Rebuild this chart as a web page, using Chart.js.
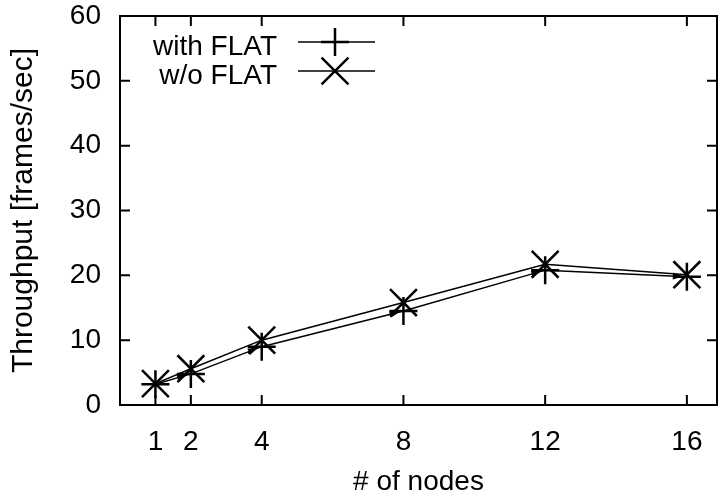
<!DOCTYPE html>
<html>
<head>
<meta charset="utf-8">
<script src="https://cdn.jsdelivr.net/npm/chart.js@4/dist/chart.umd.min.js"></script>
<style>
  html, body { margin: 0; padding: 0; background: #fff; }
  #myChart { display: block; }
</style>
</head>
<body>
<canvas id="myChart" width="718" height="498"></canvas>
<script>
// values
var nodes = [1, 2, 4, 8, 12, 16];
var withFlat = [3.2, 4.8, 9.0, 14.5, 20.8, 19.8];
var withoutFlat = [3.3, 5.6, 10.0, 15.8, 21.7, 20.1];
var xTicks = [1, 2, 4, 8, 12, 16];
var yTicks = [0, 10, 20, 30, 40, 50, 60];
var seriesNames = ['with FLAT', 'w/o FLAT'];

var FONT = 'Liberation Sans, Arial, Helvetica, sans-serif';

function toPoints(ys) {
    return nodes.map(function (n, i) { return { x: n, y: ys[i] }; });
}

// gnuplot-like frame, inward ticks, arrow heads and key
var gnuplotStyle = {
    id: 'gnuplotStyle',
    afterDatasetsDraw: function (chart) {
        var ctx = chart.ctx;
        var a = chart.chartArea;
        var xs = chart.scales.x, ys = chart.scales.y;
        ctx.save();
        ctx.strokeStyle = '#000';
        ctx.lineWidth = 2;
        ctx.strokeRect(a.left, a.top, a.right - a.left, a.bottom - a.top);

        ctx.beginPath();
        xTicks.forEach(function (v) {
            var px = xs.getPixelForValue(v);
            ctx.moveTo(px, a.bottom); ctx.lineTo(px, a.bottom - 10);
            ctx.moveTo(px, a.top); ctx.lineTo(px, a.top + 10);
        });
        yTicks.forEach(function (v) {
            var py = ys.getPixelForValue(v);
            ctx.moveTo(a.left, py); ctx.lineTo(a.left + 10, py);
            ctx.moveTo(a.right, py); ctx.lineTo(a.right - 10, py);
        });
        ctx.stroke();

        // arrow heads at the end of each segment (gnuplot vectors)
        var pts = chart.getDatasetMeta(0).data;
        ctx.fillStyle = '#000';
        for (var i = 1; i < pts.length; i++) {
            var p0 = pts[i - 1], p1 = pts[i];
            var dx = p1.x - p0.x, dy = p1.y - p0.y;
            var len = Math.sqrt(dx * dx + dy * dy);
            var ux = dx / len, uy = dy / len;
            var tx = p1.x - ux * 4, ty = p1.y - uy * 4;
            var bx = tx - ux * 10, by = ty - uy * 10;
            ctx.beginPath();
            ctx.moveTo(tx, ty);
            ctx.lineTo(bx - uy * 3.5, by + ux * 3.5);
            ctx.lineTo(bx + uy * 3.5, by - ux * 3.5);
            ctx.closePath();
            ctx.fill();
        }

        // key
        ctx.font = '28px ' + FONT;
        ctx.textAlign = 'right';
        ctx.textBaseline = 'alphabetic';
        ctx.fillStyle = '#000';
        var rows = [42, 71];
        chart.data.datasets.forEach(function (ds, i) {
            var y = rows[i];
            ctx.fillText(seriesNames[i], 277, y + 13);
            ctx.lineWidth = 1.5;
            ctx.beginPath();
            ctx.moveTo(298, y); ctx.lineTo(375, y);
            ctx.stroke();
            ctx.lineWidth = ds.pointBorderWidth;
            ctx.beginPath();
            if (ds.pointStyle === 'cross') {
                var r = ds.pointRadius;
                ctx.moveTo(335 - r, y); ctx.lineTo(335 + r, y);
                ctx.moveTo(335, y - r); ctx.lineTo(335, y + r);
            } else {
                var d = ds.pointRadius * Math.SQRT1_2;
                ctx.moveTo(335 - d, y - d); ctx.lineTo(335 + d, y + d);
                ctx.moveTo(335 - d, y + d); ctx.lineTo(335 + d, y - d);
            }
            ctx.stroke();
        });
        ctx.restore();
    }
};

var ctx = document.getElementById('myChart').getContext('2d');
var myChart = new Chart(ctx, {
    type: 'line',
    data: {
        datasets: [{
            label: seriesNames[0],
            data: toPoints(withFlat),
            borderColor: '#000',
            backgroundColor: '#000',
            borderWidth: 1.5,
            pointStyle: 'cross',
            pointRadius: 14,
            pointBorderWidth: 2.5,
            pointBorderColor: '#000',
            tension: 0,
            fill: false
        }, {
            label: seriesNames[1],
            data: toPoints(withoutFlat),
            borderColor: '#000',
            backgroundColor: '#000',
            borderWidth: 1.5,
            pointStyle: 'crossRot',
            pointRadius: 19,
            pointBorderWidth: 2.5,
            pointBorderColor: '#000',
            tension: 0,
            fill: false
        }]
    },
    options: {
        responsive: false,
        animation: false,
        layout: { autoPadding: false, padding: { top: 16, right: 1, left: 0, bottom: 0 } },
        plugins: {
            legend: { display: false },
            tooltip: { enabled: false }
        },
        scales: {
            x: {
                type: 'linear',
                min: 0,
                max: 16.85,
                afterBuildTicks: function (scale) {
                    scale.ticks = xTicks.map(function (v) { return { value: v }; });
                },
                afterFit: function (scale) {
                    scale.height = 93;
                    scale.paddingLeft = 0;
                    scale.paddingRight = 0;
                },
                grid: { display: false, drawTicks: false },
                border: { display: false },
                ticks: {
                    color: '#000',
                    padding: 20,
                    maxRotation: 0,
                    autoSkip: false,
                    font: { family: FONT, size: 28 }
                },
                title: {
                    display: true,
                    text: '# of nodes',
                    color: '#000',
                    padding: { top: 0, bottom: 0 },
                    font: { family: FONT, size: 28, lineHeight: 1.1 }
                }
            },
            y: {
                min: 0,
                max: 60,
                afterBuildTicks: function (scale) {
                    scale.ticks = yTicks.map(function (v) { return { value: v }; });
                },
                afterFit: function (scale) {
                    scale.width = 120;
                    scale.paddingTop = 0;
                    scale.paddingBottom = 0;
                },
                grid: { display: false, drawTicks: false },
                border: { display: false },
                ticks: {
                    color: '#000',
                    padding: 19,
                    font: { family: FONT, size: 28 }
                },
                title: {
                    display: true,
                    text: 'Throughput [frames/sec]',
                    color: '#000',
                    padding: { top: 7, bottom: 0 },
                    font: { family: FONT, size: 30, lineHeight: 1.1 }
                }
            }
        }
    },
    plugins: [gnuplotStyle]
});
</script>
</body>
</html>
